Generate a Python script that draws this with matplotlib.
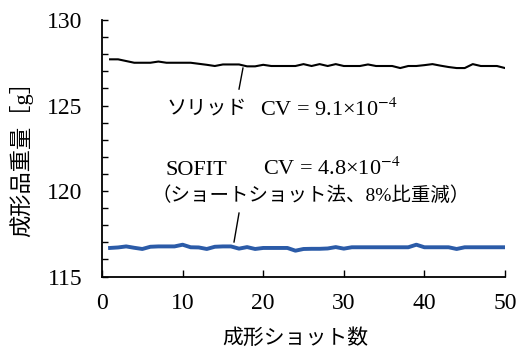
import numpy as np
import matplotlib.pyplot as plt
from matplotlib.ticker import MultipleLocator

plt.rcParams['font.family'] = ['Liberation Serif', 'Noto Sans CJK JP']
plt.rcParams['mathtext.fontset'] = 'stix'

# shot number vs. part weight [g]
shots = np.arange(1, 51)
solid_w = [127.70, 127.70, 127.60, 127.50, 127.50, 127.50, 127.57, 127.50, 127.50, 127.50,
           127.50, 127.44, 127.38, 127.31, 127.40, 127.40, 127.40, 127.29, 127.29, 127.38,
           127.31, 127.31, 127.31, 127.31, 127.42, 127.31, 127.42, 127.31, 127.42, 127.31,
           127.31, 127.31, 127.40, 127.31, 127.31, 127.31, 127.19, 127.31, 127.31, 127.36,
           127.42, 127.33, 127.25, 127.19, 127.19, 127.42, 127.31, 127.31, 127.31, 127.19]
sofit_w = [116.67, 116.70, 116.76, 116.68, 116.61, 116.74, 116.76, 116.76, 116.76, 116.86,
           116.71, 116.70, 116.61, 116.74, 116.76, 116.76, 116.63, 116.72, 116.61, 116.67,
           116.67, 116.67, 116.67, 116.51, 116.61, 116.62, 116.62, 116.64, 116.72, 116.63,
           116.71, 116.71, 116.71, 116.71, 116.71, 116.71, 116.71, 116.71, 116.86, 116.71,
           116.71, 116.71, 116.71, 116.61, 116.71, 116.71, 116.71, 116.71, 116.71, 116.71]

xlabel = '成形ショット数'
ylabel = '成形品重量［g］'
solid_name, solid_cv = 'ソリッド', 'CV = 9.1×10$^{-4}$'
sofit_name, sofit_cv = 'SOFIT', 'CV = 4.8×10$^{-4}$'
sofit_note = '（ショートショット法、8%比重減）'

fig = plt.figure(figsize=(5.18, 3.49), dpi=100)
ax = fig.add_axes([0.1969, 0.2077, 0.778, 0.735])

ax.plot(shots, solid_w, color='black', lw=1.5)
ax.plot(shots, sofit_w, color='#2b5ba8', lw=2.8)

ax.set_xlim(0, 50)
ax.set_ylim(115, 130)
ax.xaxis.set_major_locator(MultipleLocator(10))
ax.yaxis.set_major_locator(MultipleLocator(5))
ax.yaxis.set_minor_locator(MultipleLocator(1))
for side in ['top', 'right']:
    ax.spines[side].set_visible(False)
for side in ['left', 'bottom']:
    ax.spines[side].set_linewidth(1.3)
ax.tick_params(axis='both', which='both', direction='in', width=1.0, labelsize=17)
ax.tick_params(axis='y', which='both', length=4, pad=14)
ax.tick_params(axis='x', which='major', length=5, pad=12)

ax.set_xlabel(xlabel, fontsize=15, family='Noto Sans CJK JP')
ax.set_ylabel(ylabel, fontsize=16)
ax.xaxis.set_label_coords(0.479, -0.195)
ax.yaxis.set_label_coords(-0.17, 0.48)

# labels and leader lines
jp = dict(family='Noto Sans CJK JP', fontsize=14.5, va='center')
sf = dict(family='Liberation Serif', fontsize=16, va='baseline')
ax.text(8.0, 124.85, solid_name, **jp)
ax.text(19.6, 124.39, solid_cv, **sf)
ax.plot([17.49, 17.0], [127.19, 125.96], color='black', lw=1.0)

ax.text(7.82, 120.94, sofit_name, **sf)
ax.text(19.97, 120.94, sofit_cv, **sf)
ax.text(6.1, 119.71, sofit_note, fontsize=14, va='center')
ax.plot([17.0, 16.38], [118.71, 117.02], color='black', lw=1.0)

fig.savefig('out.png', dpi=100)
